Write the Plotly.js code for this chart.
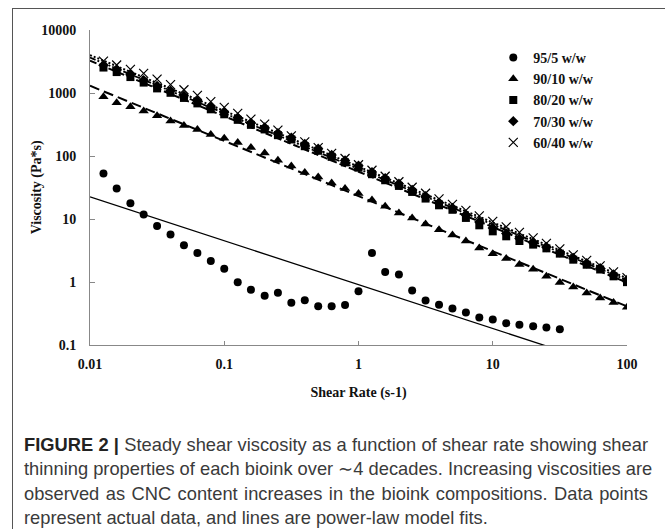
<!DOCTYPE html>
<html>
<head>
<meta charset="utf-8">
<script src="https://cdn.plot.ly/plotly-3.0.1.min.js"></script>
<style>
  html, body { margin: 0; padding: 0; background: #fff; overflow: hidden; }
  #wrap { position: relative; width: 665px; height: 529px; }
  #chart { position: absolute; left: 0; top: 0; width: 665px; height: 529px; }
  #frame { position: absolute; left: 12px; top: 8px; width: 720px; height: 600px;
           border: 1.3px solid #555; box-sizing: border-box; pointer-events: none; z-index: 5; }
  #caption { position: absolute; left: 24px; top: 433px; width: 624px; z-index: 6;
             font-family: "Liberation Sans", Arial, sans-serif; font-size: 17px;
             color: #3a3a3a; line-height: 24.4px; }
  #caption .ln { white-space: nowrap; text-align: justify; text-align-last: justify; }
  #caption .last { text-align-last: left; }
  #caption b { color: #222; }
  #measure { position: absolute; visibility: hidden; white-space: nowrap;
             font-family: "Liberation Sans", Arial, sans-serif; font-size: 17px; }
</style>
</head>
<body>
<div id="wrap">
  <div id="chart"></div>
  <div id="frame"></div>
  <div id="caption">
    <div class="ln"><b>FIGURE 2 |</b> Steady shear viscosity as a function of shear rate showing shear</div>
    <div class="ln">thinning properties of each bioink over ∼4 decades. Increasing viscosities are</div>
    <div class="ln">observed as CNC content increases in the bioink compositions. Data points</div>
    <div class="ln last">represent actual data, and lines are power-law model fits.</div>
  </div>
  <span id="measure"><b>FIGURE 2 |</b> Steady shear viscosity as a function of shear rate showing shear</span>
</div>
<script>
// Shear rates (s-1)
const shearRate = [0.0126,0.0158,0.0200,0.0251,0.0316,0.0398,0.0501,0.0631,0.0794,0.1,
                   0.126,0.158,0.200,0.251,0.316,0.398,0.501,0.631,0.794,1,
                   1.26,1.58,2.00,2.51,3.16,3.98,5.01,6.31,7.94,10,
                   12.6,15.8,20.0,25.1,31.6,39.8,50.1,63.1,79.4,100];

// Viscosity (Pa*s)
const visc95_5 = [52.7,30.4,17.8,11.8,7.74,5.65,3.82,2.88,2.15,1.63,
                  0.995,0.755,0.606,0.676,0.469,0.515,0.414,0.414,0.43,0.716,
                  2.88,1.44,1.31,0.735,0.509,0.435,0.380,0.329,0.274,0.254,
                  0.222,0.210,0.199,0.190,0.178];
const visc90_10 = [871,698,604,516,434,361,305,264,220,192,
                   164,137,112,85.7,69.6,54.7,46.6,37.4,30.4,25.3,
                   20.0,15.9,12.4,10.4,8.32,6.78,5.57,4.47,3.46,2.82,
                   2.35,1.90,1.59,1.23,0.986,0.830,0.667,0.555,0.474,0.399];
const visc80_20 = [2535,2148,1790,1463,1183,1007,835,684,551,459,
                   375,312,264,214,183,143,121,96.8,79.1,65.2,
                   51.4,41.2,33.5,26.9,21.1,16.5,14.0,10.4,7.94,6.37,
                   5.31,4.47,3.92,3.42,2.82,2.26,1.88,1.58,1.23,0.995];
const visc70_30 = [2750,2330,1950,1600,1290,1090,905,745,600,495,
                   405,335,283,231,196,155,130,104,85,70,
                   55.5,44.5,36.2,29.0,23.0,18.2,15.0,11.6,9.0,7.2,
                   5.9,4.9,4.2,3.6,2.95,2.4,1.98,1.66,1.32,1.08];
const visc60_40 = [3214,2780,2373,2050,1665,1361,1125,916,730,590,
                   474,385,320,257,209,168,136,110,91.2,72.7,
                   59.4,47.7,39.0,31.9,25.6,20.9,17.1,13.7,11.2,9.19,
                   7.51,6.15,5.03,4.11,3.36,2.70,2.20,1.80,1.45,1.17];

// Power-law fit lines (end points)
const fitShear = [0.01, 100];
const fit95_5  = [22.4, 0.0368];
const fit90_10 = [1302, 0.41];
const fit80_20 = [3250, 0.98];
const fit70_30 = [3650, 1.07];
const fit60_40 = [4000, 1.15];

const seriesNames = ['95/5 w/w','90/10 w/w','80/20 w/w','70/30 w/w','60/40 w/w'];

// fit caption font so that the first line spans the caption width naturally
(function () {
  const m = document.getElementById('measure');
  const w = m.getBoundingClientRect().width;
  if (w > 0) {
    const fs = 17 * 622 / w;
    document.getElementById('caption').style.fontSize = fs.toFixed(2) + 'px';
  }
  m.remove();
})();

const lines = [
  {y: fit95_5,  dash: 'solid', w: 1.3},
  {y: fit90_10, dash: '10px,5px', w: 2},
  {y: fit80_20, dash: '7px,3px', w: 2},
  {y: fit70_30, dash: '6px,2px,2px,2px', w: 1.8},
  {y: fit60_40, dash: '2px,2px', w: 2}
];
const traces = [];
lines.forEach(l => traces.push({
  x: fitShear, y: l.y, mode: 'lines', type: 'scatter', showlegend: false,
  hoverinfo: 'skip', line: {color: '#000', width: l.w, dash: l.dash}
}));

const marks = [
  {y: visc95_5,  sym: 'circle', size: 8},
  {y: visc90_10, sym: 'triangle-up', size: 9},
  {y: visc80_20, sym: 'square', size: 8},
  {y: visc70_30, sym: 'diamond', size: 8},
  {y: visc60_40, sym: 'x-thin', size: 9}
];
marks.forEach((m, i) => traces.push({
  x: shearRate.slice(0, m.y.length), y: m.y, mode: 'markers', type: 'scatter',
  name: seriesNames[i],
  marker: {symbol: m.sym, size: m.size, color: '#000',
           line: {color: '#000', width: m.sym === 'x-thin' ? 1.2 : 0}}
}));

const serif = '"Liberation Serif", "Times New Roman", serif';
const layout = {
  width: 665, height: 529,
  paper_bgcolor: 'rgba(0,0,0,0)', plot_bgcolor: 'rgba(0,0,0,0)',
  margin: {l: 90, r: 38, t: 30, b: 184},
  font: {family: serif, size: 14, color: '#111'},
  showlegend: true,
  legend: {x: 0.751, y: 0.962, xanchor: 'left', yanchor: 'top',
           font: {family: serif, size: 14, color: '#111', weight: 'bold'},
           bgcolor: 'rgba(0,0,0,0)', itemwidth: 30, tracegroupgap: 0},
  xaxis: {
    type: 'log', range: [-2, 2], showgrid: false, zeroline: false,
    showline: true, linecolor: '#888', linewidth: 1,
    ticks: 'inside', ticklen: 4, tickcolor: '#888',
    tickvals: [0.01, 0.1, 1, 10, 100], ticktext: ['0.01','0.1','1','10','100'],
    tickfont: {family: serif, size: 14, weight: 'bold', color: '#111'},
    ticklabelstandoff: 6,
    title: {text: 'Shear Rate (s-1)', standoff: 16,
            font: {family: serif, size: 14, weight: 'bold', color: '#111'}}
  },
  yaxis: {
    type: 'log', range: [-1, 4], showgrid: false, zeroline: false,
    showline: true, linecolor: '#888', linewidth: 1,
    ticks: 'inside', ticklen: 5, tickcolor: '#888',
    tickvals: [0.1, 1, 10, 100, 1000, 10000], ticktext: ['0.1','1','10','100','1000','10000'],
    tickfont: {family: serif, size: 14, weight: 'bold', color: '#111'},
    ticklabelstandoff: 10
  },
  annotations: [{
    text: 'Viscosity (Pa*s)', xref: 'paper', yref: 'paper',
    x: -0.099, y: 0.5, xanchor: 'center', yanchor: 'middle', textangle: -90,
    showarrow: false, font: {family: serif, size: 14, weight: 'bold', color: '#111'}
  }]
};

Plotly.newPlot('chart', traces, layout, {displayModeBar: false, staticPlot: true});
</script>
</body>
</html>
